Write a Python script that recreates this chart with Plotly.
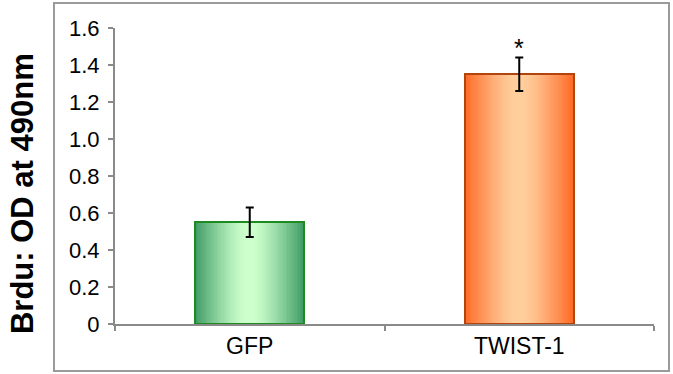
import plotly.graph_objects as go

# Data
categories = ["GFP", "TWIST-1"]
od_values = [0.55, 1.35]
od_errors = [0.08, 0.09]
significance = ["", "*"]
y_tick_values = [0, 0.2, 0.4, 0.6, 0.8, 1.0, 1.2, 1.4, 1.6]
y_tick_labels = ["0", "0.2", "0.4", "0.6", "0.8", "1.0", "1.2", "1.4", "1.6"]

# Styling
FONT = "Liberation Sans, Arial, sans-serif"
AXIS_GRAY = "#8a8a8a"
BAR_WIDTH = 0.405
N_SLICES = 60
edge_colors = [(61, 154, 100), (255, 104, 36)]
center_colors = [(204, 255, 204), (255, 206, 156)]
outline_colors = ["#1f8a1f", "#b2440e"]


def blend(c0, c1, t):
    return "rgb(%d,%d,%d)" % tuple(round(a + (b - a) * t) for a, b in zip(c0, c1))


def profile(u):
    # symmetric edge -> centre -> edge gradient with a soft plateau in the middle
    d = abs(u - 0.5) / 0.5
    d = max(0.0, (d - 0.08) / 0.92)
    return 1.0 - d ** 1.3


fig = go.Figure()

# Horizontal gradient fill built from thin vertical bar slices
slice_w = BAR_WIDTH / N_SLICES
for i in range(N_SLICES):
    u = (i + 0.5) / N_SLICES
    t = profile(u)
    colors = [blend(e, c, t) for e, c in zip(edge_colors, center_colors)]
    fig.add_trace(go.Bar(
        x=categories, y=od_values, base=0,
        offset=-BAR_WIDTH / 2 + i * slice_w,
        width=slice_w * (1.0 if i == N_SLICES - 1 else 1.06),
        marker=dict(color=colors, line=dict(width=0)),
        hoverinfo="skip", showlegend=False,
    ))

# Bar outlines with error bars
fig.add_trace(go.Bar(
    x=categories, y=od_values, base=0, width=BAR_WIDTH,
    marker=dict(color="rgba(0,0,0,0)", line=dict(color=outline_colors, width=2)),
    error_y=dict(type="data", array=od_errors, visible=True,
                 color="black", thickness=2, width=4),
    hoverinfo="skip", showlegend=False,
))

# Significance markers above the error bars
for cat, val, err, mark in zip(categories, od_values, od_errors, significance):
    if mark:
        fig.add_annotation(x=cat, y=val + err, text=mark, showarrow=False,
                           yanchor="bottom", yshift=-6,
                           font=dict(family=FONT, size=25, color="black"))

# Y-axis title
fig.add_annotation(xref="paper", yref="paper", x=-0.172, y=0.44,
                   text="<b>Brdu: OD at 490nm</b>", textangle=-90,
                   showarrow=False, xanchor="center", yanchor="middle",
                   font=dict(family=FONT, size=31, color="black"))

# Outer chart frame
fig.add_shape(type="rect", xref="paper", yref="paper",
              x0=-0.1132, x1=1.0278, y0=-0.1588, y1=1.0845,
              line=dict(color="#9a9a9a", width=2), fillcolor="rgba(0,0,0,0)")

fig.update_layout(
    width=673, height=374,
    margin=dict(l=115, r=19, t=28, b=50),
    paper_bgcolor="white", plot_bgcolor="white",
    barmode="overlay", bargap=0,
    font=dict(family=FONT, color="black"),
    xaxis=dict(
        type="category", range=[-0.5, 1.5],
        showline=True, linecolor=AXIS_GRAY, linewidth=2,
        ticks="outside", tickson="boundaries", ticklen=5,
        tickcolor=AXIS_GRAY, tickwidth=2,
        showgrid=False, zeroline=False,
        tickfont=dict(family=FONT, size=23, color="black"),
    ),
    yaxis=dict(
        range=[0, 1.6], tickvals=y_tick_values, ticktext=y_tick_labels,
        showline=True, linecolor=AXIS_GRAY, linewidth=2,
        ticks="outside", ticklen=5, tickcolor=AXIS_GRAY, tickwidth=2,
        showgrid=False, zeroline=False,
        ticklabelstandoff=4,
        tickfont=dict(family=FONT, size=22, color="black"),
    ),
)

fig.write_html("out.html", config={"displayModeBar": False})
